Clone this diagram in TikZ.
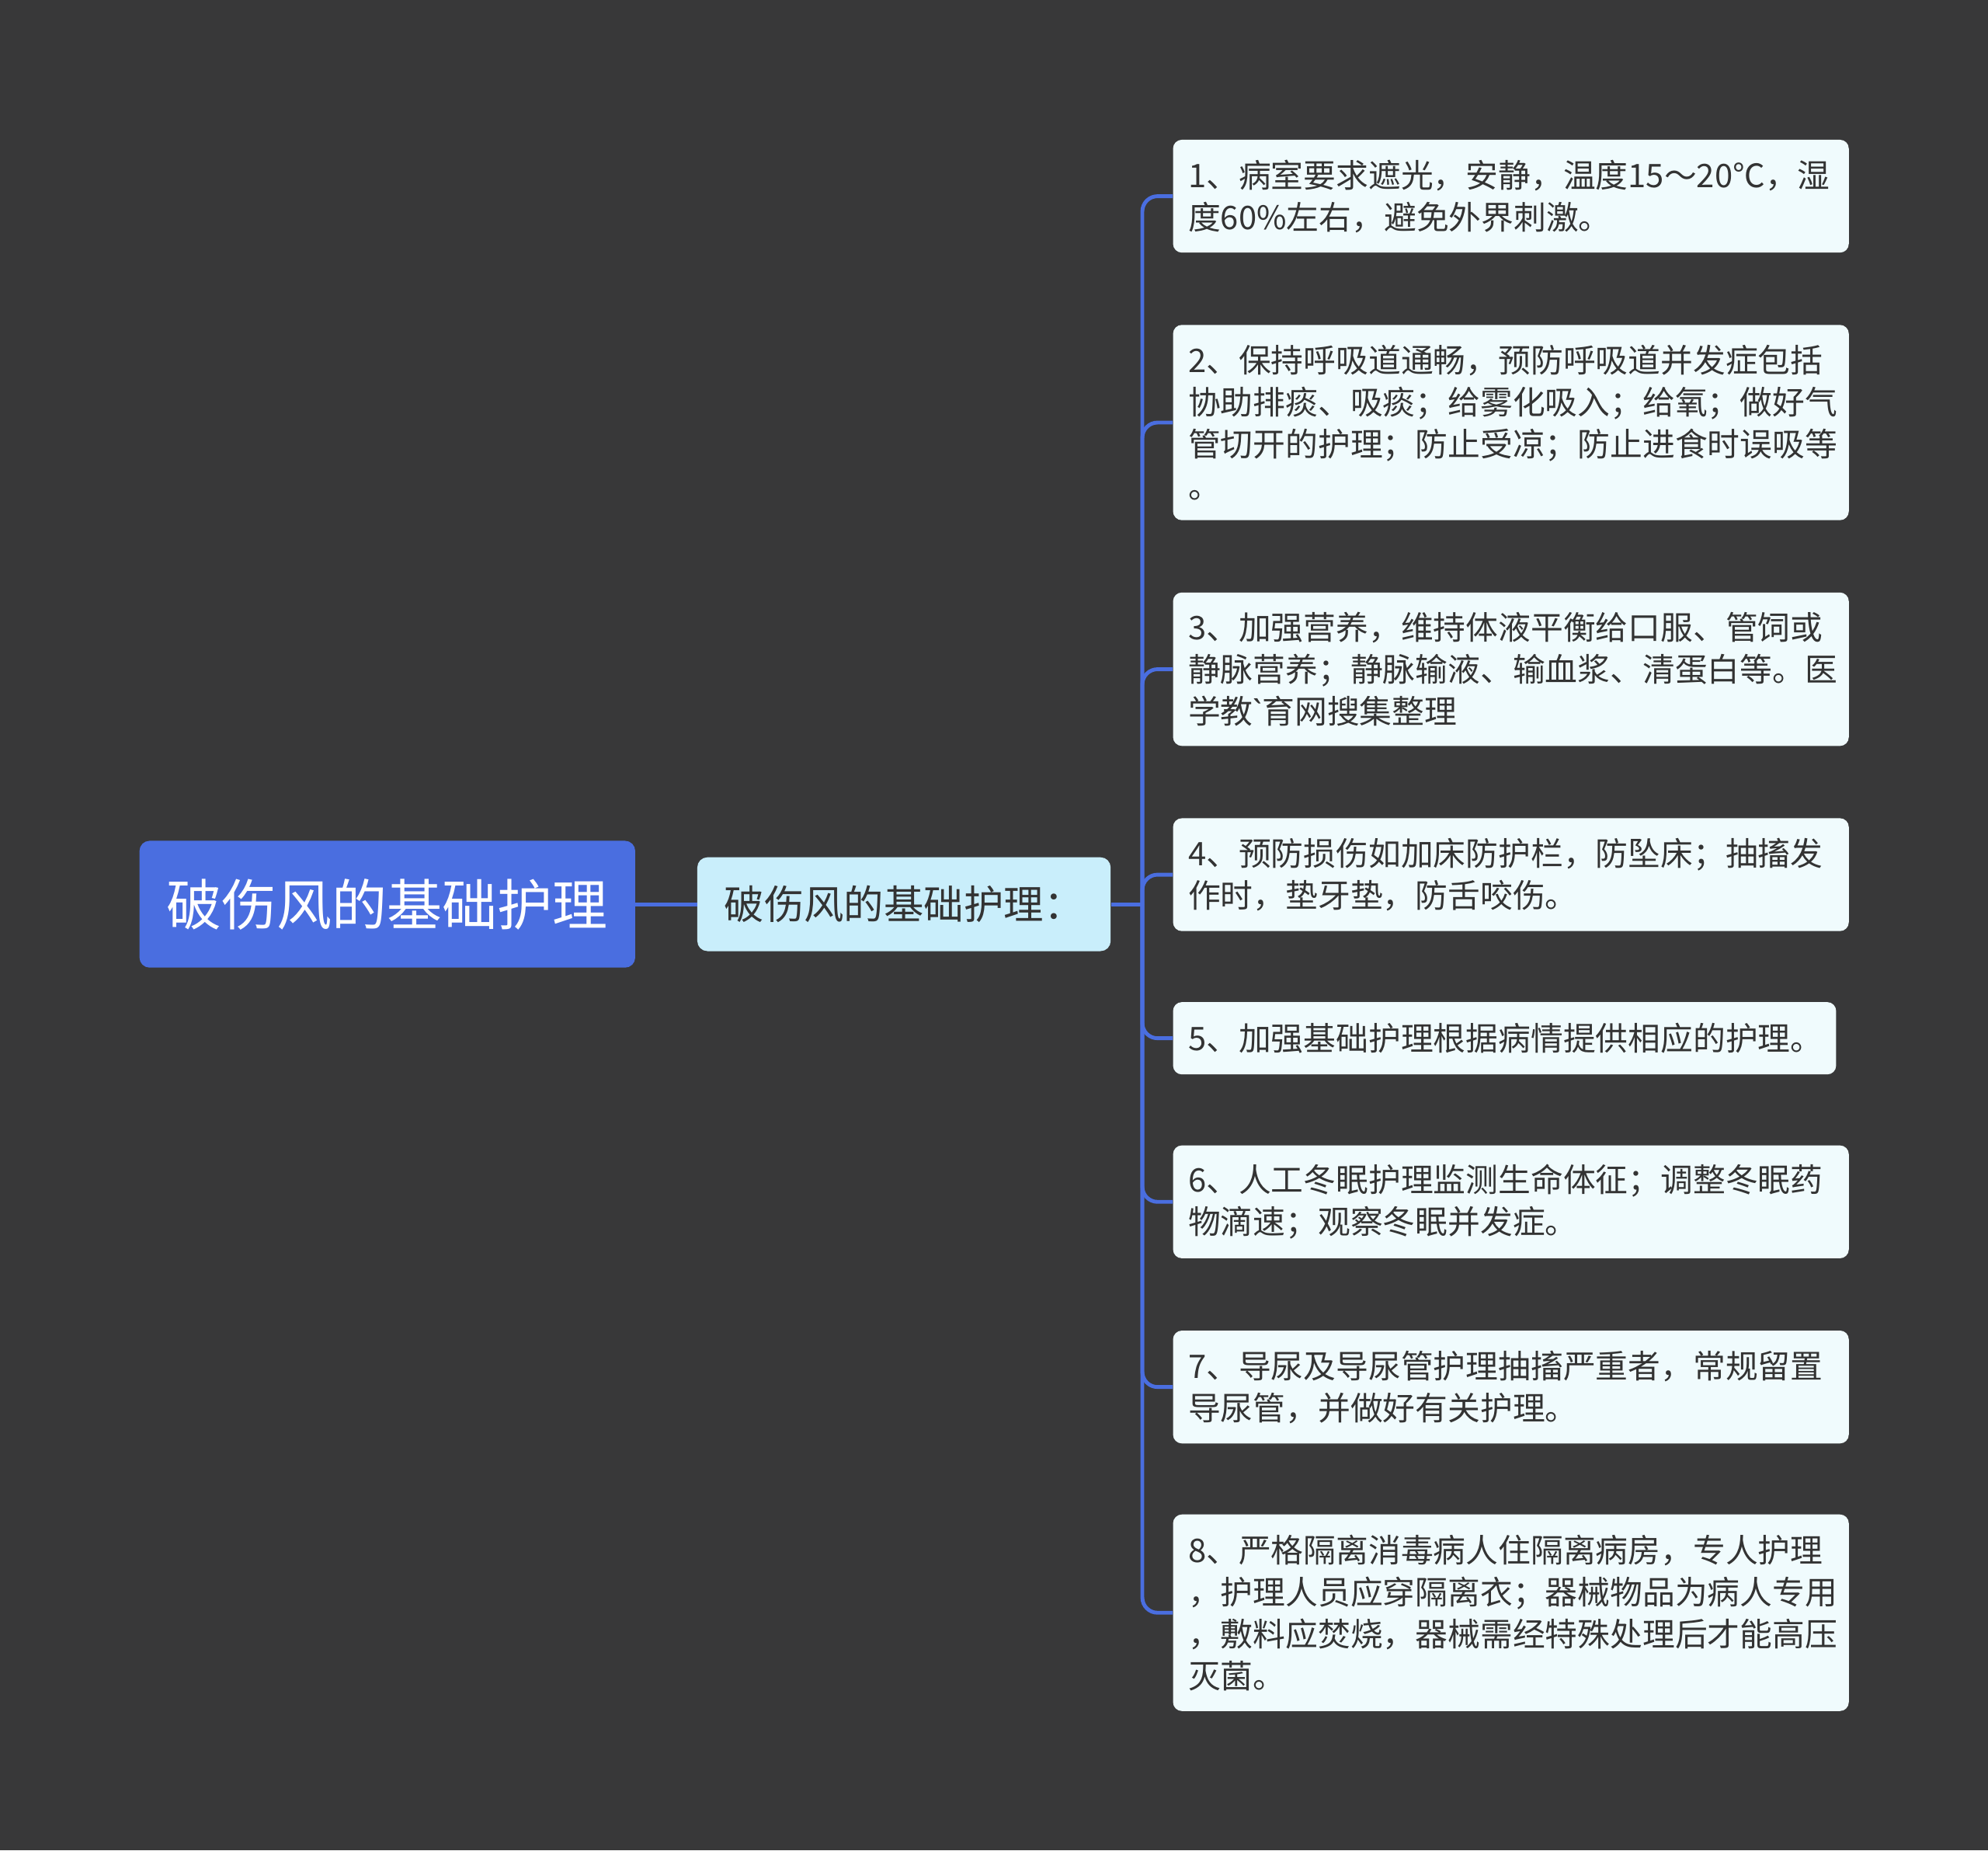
\documentclass[tikz,border=0pt]{standalone}
\usepackage{fontspec}
\setmainfont{Noto Sans CJK SC}
\newfontfamily\latinfont{Noto Sans}
\begin{document}
\begin{tikzpicture}[x=1pt,y=1pt,
  leaf/.style={draw=none,fill=leafc,rounded corners=7,anchor=north west,align=left,text width=509,inner xsep=12,inner ysep=0,font=\fontsize{25.6}{33}\selectfont,text=txt},
  conn/.style={draw=linec,line width=3},
]
\definecolor{bg}{HTML}{383839}
\definecolor{rootc}{HTML}{4A6EE0}
\definecolor{midc}{HTML}{C9EEFB}
\definecolor{leafc}{HTML}{F0FBFD}
\definecolor{linec}{HTML}{4A6EE0}
\definecolor{txt}{HTML}{333333}
\fill[bg] (0,0) rectangle (1568,-1459);
\useasboundingbox (0,0) rectangle (1568,-1459);
\node[fill=rootc,rounded corners=8,minimum width=391,minimum height=100,text=white,font=\fontsize{43.5}{50}\selectfont] (root) at (305.5,-713) {破伤风的基础护理};
\node[fill=midc,rounded corners=8,minimum width=326,minimum height=74,text=txt,font=\fontsize{31.5}{36}\selectfont] (mid) at (713,-713) {破伤风的基础护理：};
\node[leaf,minimum height=89] (l1) at (925,-110) {1、病室要求遮光，安静，温度15～20℃，湿\\度60\%左右，避免外界刺激。};
\node[leaf,minimum height=154] (l2) at (925,-256) {2、保持呼吸道通畅，预防呼吸道并发症包括\\协助排痰、吸痰；给雾化吸入；给氧；做好气\\管切开的护理；防止受凉；防止进食时误吸等\\。};
\node[leaf,minimum height=121] (l3) at (925,-467) {3、加强营养，维持体液平衡给口服、管饲或\\静脉营养；静脉输液、输血浆、清蛋白等。医\\学教{\latinfont\char"0060}育网搜集整理};
\node[leaf,minimum height=89] (l4) at (925,-645) {4、预防损伤如加床防护栏，防坠床；抽搐发\\作时，垫牙垫，防舌咬伤。};
\node[leaf,minimum height=57,text width=499] (l5) at (925,-790) {5、加强基础护理根据病情提供相应的护理。};
\node[leaf,minimum height=89] (l6) at (925,-903) {6、人工冬眠护理监测生命体征；调整冬眠药\\物滴速；观察冬眠并发症。};
\node[leaf,minimum height=89] (l7) at (925,-1049) {7、导尿及导尿管护理抽搐严重者，常规留置\\导尿管，并做好有关护理。};
\node[leaf,minimum height=155] (l8) at (925,-1194) {8、严格隔离消毒病人住隔离病房，专人护理\\，护理人员应穿隔离衣；器械物品为病人专用\\，敷料应焚烧，器械需经特殊处理后才能高压\\灭菌。};
\coordinate (bus) at (901,-713);
\draw[conn] (root.east) -- (mid.west);
\draw[conn] (mid.east) -- (bus);
\foreach \n in {l1,l2,l3,l4,l5,l6,l7,l8}
  \draw[conn,rounded corners=12] (bus) |- (\n.west);
\end{tikzpicture}
\end{document}
